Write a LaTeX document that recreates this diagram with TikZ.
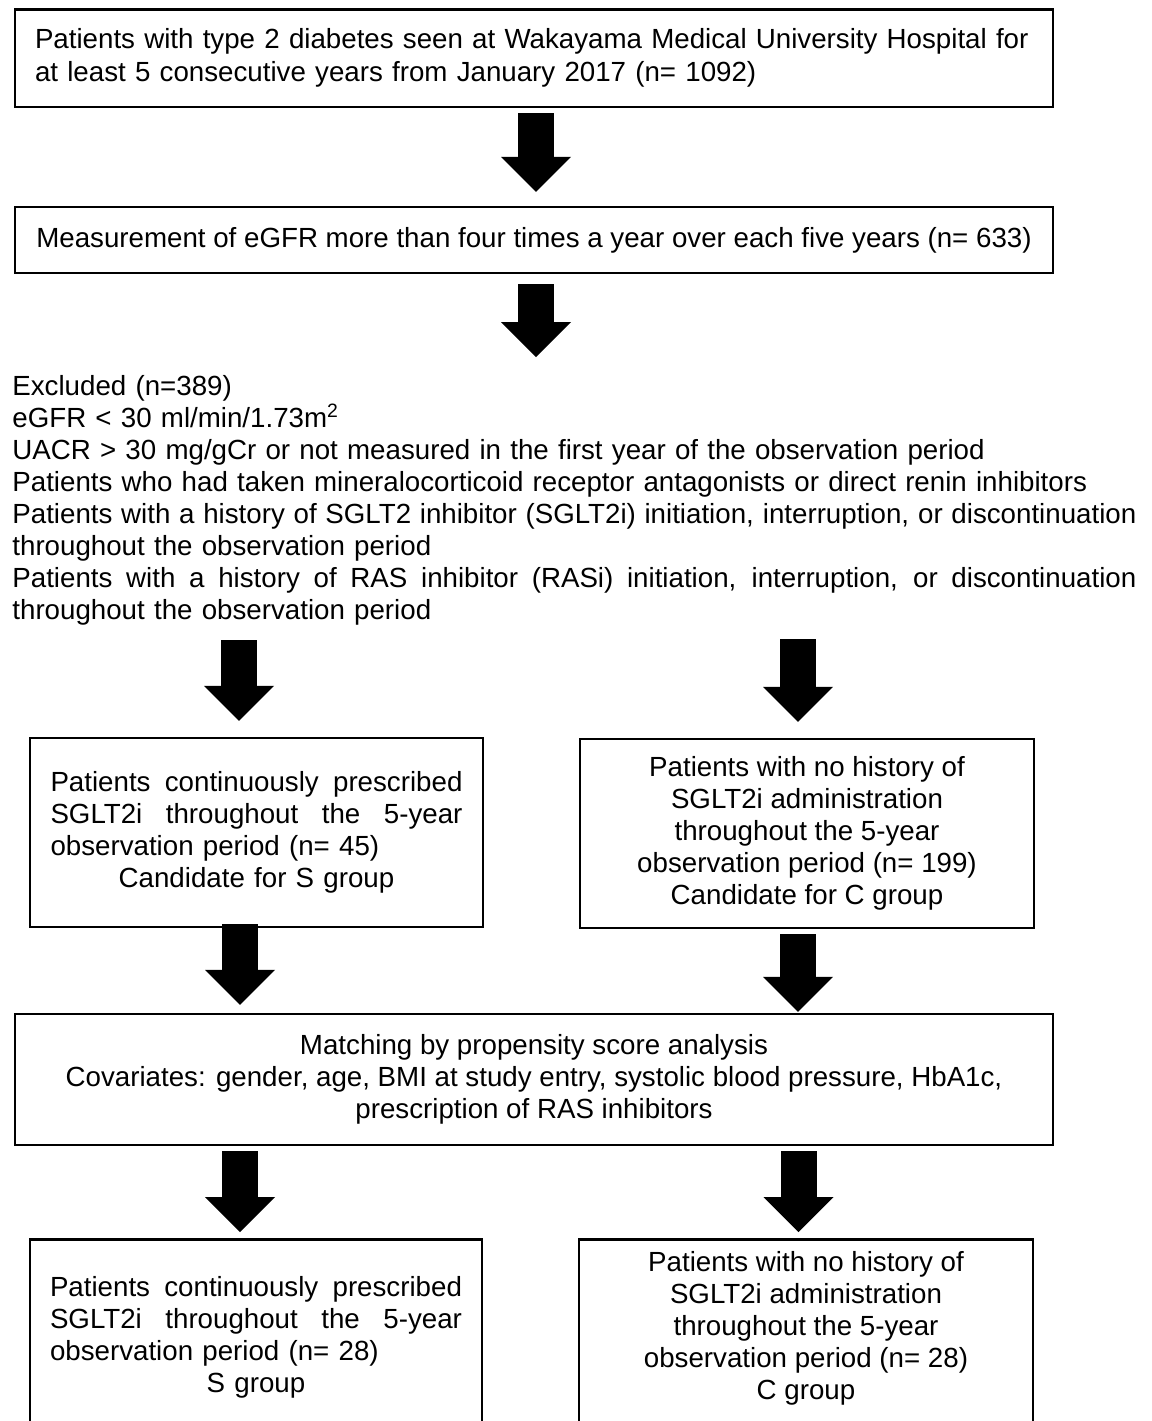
\documentclass[tikz,border=0pt]{standalone}
\usepackage{fontspec}
\setmainfont{Liberation Sans}
\usetikzlibrary{arrows.meta}
\newcommand{\jfyline}[2]{\leavevmode\hbox to #1{\spaceskip=0.278em plus 1fil\xspaceskip=\spaceskip #2}}
\begin{document}
\begin{tikzpicture}[x=0.5pt,y=-0.5pt,
  every node/.style={font=\fontsize{13.85}{16}\selectfont, inner sep=0pt},
  box/.style={draw, line width=1.25pt, rectangle},
  bigarrow/.style={line width=18pt, line cap=butt, -{Triangle[length=17.5pt,width=35pt,line width=0pt]}},
]
\useasboundingbox[fill=white] (0,0) rectangle (1152,1421);

% boxes
\node[box, minimum width=519pt, minimum height=48.75pt, text width=499pt, align=left] (b1) at (534,58.25)
  {Patients with type 2 diabetes seen at Wakayama Medical University Hospital for\\[0.5pt]
   at least 5 consecutive years from January 2017 (n= 1092)};

\node[box, minimum width=519pt, minimum height=33pt] (b2) at (534,240)
  {Measurement of eGFR more than four times a year over each five years (n= 633)};

\node[anchor=north west, text width=562pt, align=left] (excl) at (12,375)
  {Excluded (n=389)\\
   eGFR < 30 ml/min/1.73m\textsuperscript{2}\\
   UACR > 30 mg/gCr or not measured in the first year of the observation period\\
   Patients who had taken mineralocorticoid receptor antagonists or direct renin inhibitors\\
   \jfyline{562pt}{Patients with a history of SGLT2 inhibitor (SGLT2i) initiation, interruption, or discontinuation}\\
   throughout the observation period\\
   \jfyline{562pt}{Patients with a history of RAS inhibitor (RASi) initiation, interruption, or discontinuation}\\
   throughout the observation period};

\node[box, minimum width=226.5pt, minimum height=94.5pt, text width=206pt, align=left] (sL) at (256.5,832.5)
  {\jfyline{206pt}{Patients continuously prescribed}\\
   \jfyline{206pt}{SGLT2i throughout the 5-year}\\
   observation period (n= 45)\\
   \makebox[206pt][c]{Candidate for S group}};

\node[box, minimum width=227pt, minimum height=94.5pt, align=center] (cR) at (807,833.5)
  {Patients with no history of\\
   SGLT2i administration\\
   throughout the 5-year\\
   observation period (n= 199)\\
   Candidate for C group};

\node[box, minimum width=519pt, minimum height=65.5pt, align=center] (m) at (534,1079.5)
  {Matching by propensity score analysis\\
   Covariates: gender, age, BMI at study entry, systolic blood pressure, HbA1c,\\
   prescription of RAS inhibitors};

\node[box, anchor=north, minimum width=226pt, minimum height=150pt] (sFb) at (256,1238) {};
\node[text width=206pt, align=left] (sFt) at (256,1337)
  {\jfyline{206pt}{Patients continuously prescribed}\\
   \jfyline{206pt}{SGLT2i throughout the 5-year}\\
   observation period (n= 28)\\
   \makebox[206pt][c]{S group}};

\node[box, anchor=north, minimum width=227pt, minimum height=150pt] (cFb) at (806,1238) {};
\node[align=center] (cFt) at (806,1328)
  {Patients with no history of\\
   SGLT2i administration\\
   throughout the 5-year\\
   observation period (n= 28)\\
   C group};

% arrows
\coordinate (t2) at (536,357);
\coordinate (e3L) at (239,640);
\coordinate (e3R) at (798,639);

\draw[bigarrow, shorten <=2.5pt, shorten >=7pt] (b1.south -| 536,0) -- (b2.north -| 536,0);
\draw[bigarrow, shorten <=5pt] (b2.south -| 536,0) -- (t2);
\draw[bigarrow, shorten >=8pt] (e3L) -- (e3L |- sL.north);
\draw[bigarrow, shorten >=8pt] (e3R) -- (e3R |- cR.north);
\draw[bigarrow, shorten <=-2pt, shorten >=4pt] (sL.south -| 240,0) -- (m.north -| 240,0);
\draw[bigarrow, shorten <=2.5pt, shorten >=0.5pt] (cR.south -| 798,0) -- (m.north -| 798,0);
\draw[bigarrow, shorten <=2.5pt, shorten >=3pt] (m.south -| 240,0) -- (sFb.north -| 240,0);
\draw[bigarrow, shorten <=2.5pt, shorten >=3pt] (m.south -| 798.5,0) -- (cFb.north -| 798.5,0);
\end{tikzpicture}
\end{document}
